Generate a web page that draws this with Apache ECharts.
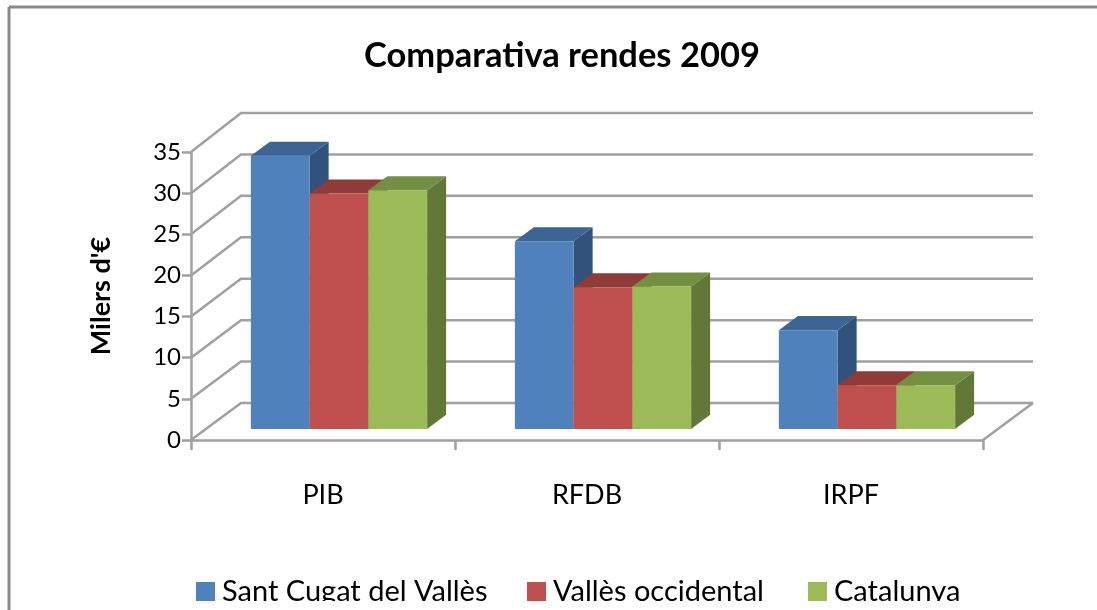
<!DOCTYPE html>
<html><head><meta charset="utf-8">
<style>html,body{margin:0;padding:0;background:#fff}#c{width:1097px;height:610px}</style>
<script src="https://cdn.jsdelivr.net/npm/echarts@6/dist/echarts.min.js"></script>
</head><body><div id="c"></div>
<script>
const categories = ['PIB', 'RFDB', 'IRPF'];
const santCugat = [33.2, 22.8, 12.0];
const vallesOcc = [28.6, 17.2, 5.3];
const catalunya = [29.0, 17.3, 5.3];
const yTicks = [0, 5, 10, 15, 20, 25, 30, 35];
const titleText = 'Comparativa rendes 2009';
const yName = "Milers d'€";
const seriesNames = ['Sant Cugat del Vallès', 'Vallès occidental', 'Catalunya'];

const DX = 50, DY = -37;          // oblique projection of the full floor depth
const WALL_STRETCH = 2 / 35;      // back wall is slightly taller than the front plane
const FRONT = 0.30, BACK = 0.68;  // depth range of the bars
const BARW = 0.2225;              // bar width as share of a category band
const BAR_SHIFT = 1;
const GRIDC = '#a0a0a0';
const FONT = 'Lato, sans-serif';

function wallItem(params, api) {
  const cs = params.coordSys, v = api.value(0);
  const y = api.coord([0, v])[1], x0 = cs.x, x1 = cs.x + cs.width;
  const yb = y + DY - v * WALL_STRETCH;
  const lineStyle = { stroke: GRIDC, lineWidth: 2.5, fill: null };
  const kids = [
    { type: 'polyline', shape: { points: [[x0, y], [x0 + DX, yb], [x1 + DX, yb]] }, style: lineStyle }
  ];
  if (v === 0) kids.push({ type: 'line', shape: { x1: x1, y1: y, x2: x1 + DX, y2: yb }, style: lineStyle });
  return { type: 'group', children: kids };
}
function barRender(idx, front, top, side) {
  return function (params, api) {
    const band = api.size([1, 0])[0], w = band * BARW;
    const c = api.coord([api.value(0), api.value(1)]), b = api.coord([api.value(0), 0]);
    const l = c[0] + (idx - 1.5) * w + DX * FRONT + BAR_SHIFT, r = l + w;
    const fy = DY * FRONT, bx = DX * (BACK - FRONT), by = DY * (BACK - FRONT);
    const yt = c[1] + fy, yb = b[1] + fy;
    return { type: 'group', children: [
      { type: 'polygon', shape: { points: [[r, yt], [r + bx, yt + by], [r + bx, yb + by], [r, yb]] }, style: { fill: side } },
      { type: 'polygon', shape: { points: [[l, yt], [l + bx, yt + by], [r + bx, yt + by], [r, yt]] }, style: { fill: top } },
      { type: 'rect', shape: { x: l, y: yt, width: w, height: yb - yt }, style: { fill: front } }
    ] };
  };
}
function barSeries(name, vals, idx, front, top, side) {
  return { type: 'custom', name: name, renderItem: barRender(idx, front, top, side),
    itemStyle: { color: front }, encode: { x: 0, y: 1 }, z: 3 + idx,
    data: vals.map((v, i) => [i, v]) };
}
function legendItem(name, left) {
  return { data: [name], left: left, top: 577, icon: 'rect', itemWidth: 19, itemHeight: 19, padding: 0,
    textStyle: { fontFamily: FONT, fontSize: 29, color: '#000', padding: [0, 0, 0, 2] } };
}
const chart = echarts.init(document.getElementById('c'), null, { renderer: 'canvas' });
chart.setOption({
  animation: false,
  backgroundColor: '#fff',
  title: { text: titleText, left: 557, top: 33, textAlign: 'center',
    textStyle: { fontFamily: FONT, fontSize: 34.5, fontWeight: 'bold', color: '#000' } },
  legend: [legendItem(seriesNames[0], 196), legendItem(seriesNames[1], 527), legendItem(seriesNames[2], 808)],
  grid: { left: 191, width: 792, top: 152, height: 288 },
  xAxis: { type: 'category', data: categories, boundaryGap: true,
    axisLine: { lineStyle: { color: GRIDC, width: 2.5 } },
    axisTick: { show: true, alignWithLabel: false, length: 10, lineStyle: { color: GRIDC, width: 2.5 } },
    axisLabel: { fontFamily: FONT, fontSize: 27, color: '#000', margin: 42 },
    splitLine: { show: false } },
  yAxis: { type: 'value', min: 0, max: 35, interval: 5,
    name: yName, nameLocation: 'middle', nameGap: 76, nameRotate: 90,
    nameTextStyle: { fontFamily: FONT, fontSize: 27, fontWeight: 'bold', color: '#000' },
    axisLine: { show: true, lineStyle: { color: GRIDC, width: 2.5 } },
    axisTick: { show: true, length: 9, lineStyle: { color: GRIDC, width: 2.5 } },
    axisLabel: { fontFamily: FONT, fontSize: 24, color: '#000', margin: 10 },
    splitLine: { show: false } },
  series: [
    { type: 'custom', name: 'wall', renderItem: wallItem, z: 1, silent: true, encode: { y: 0 },
      data: yTicks.map(v => [v]) },
    barSeries(seriesNames[0], santCugat, 0, '#4f81bd', '#3c6595', '#31527a'),
    barSeries(seriesNames[1], vallesOcc, 1, '#c0504d', '#913b39', '#7a2f2d'),
    barSeries(seriesNames[2], catalunya, 2, '#9bbb59', '#758f42', '#637837')
  ],
  graphic: [
    { type: 'rect', z: 99, shape: { x: 10, y: 601, width: 1087, height: 9 }, style: { fill: '#fff' } },
    { type: 'line', z: 100, shape: { x1: 9, y1: 7, x2: 1097, y2: 7 }, style: { stroke: '#8a8a8a', lineWidth: 3 } },
    { type: 'line', z: 100, shape: { x1: 9, y1: 7, x2: 9, y2: 610 }, style: { stroke: '#8a8a8a', lineWidth: 3 } }
  ]
});
</script></body></html>
